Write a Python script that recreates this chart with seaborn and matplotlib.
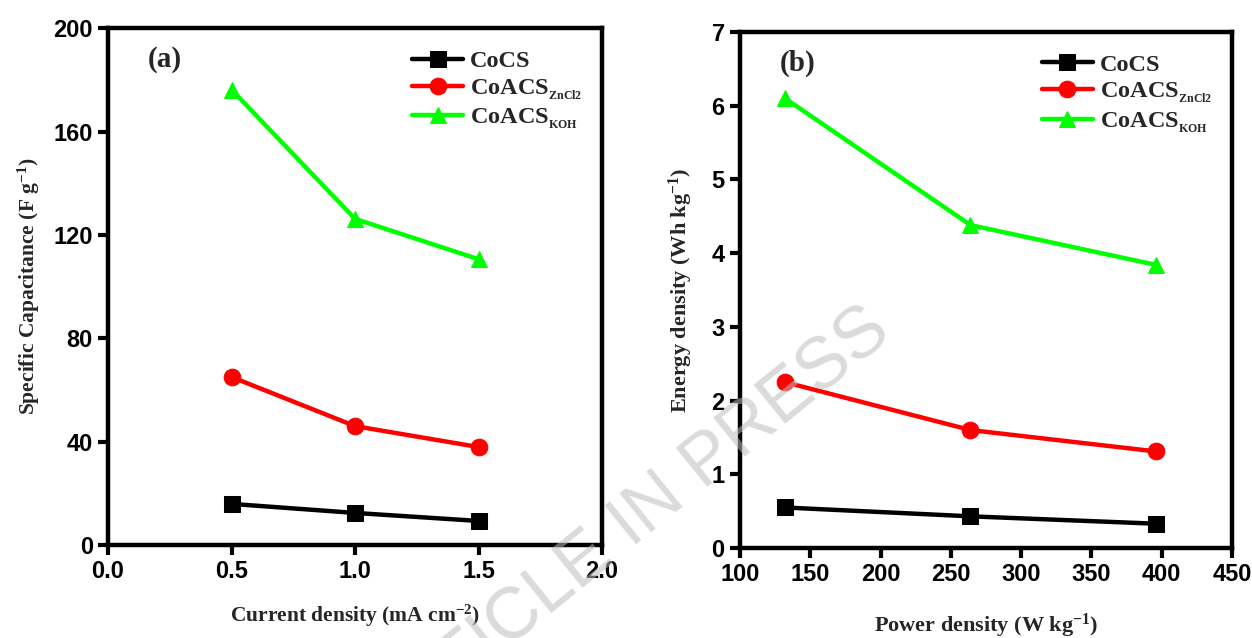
import matplotlib
matplotlib.use("Agg")
import matplotlib.pyplot as plt
import seaborn as sns
import pandas as pd

# Panel (a): specific capacitance vs current density
current_density = [0.5, 1.0, 1.5]
cap_cocs = [15.9, 12.4, 9.3]
cap_zncl2 = [65.0, 46.0, 37.9]
cap_koh = [176.2, 126.2, 110.6]

# Panel (b): energy density vs power density
power_density = [132, 264, 396]
energy_cocs = [0.55, 0.43, 0.33]
energy_zncl2 = [2.25, 1.60, 1.31]
energy_koh = [6.10, 4.38, 3.84]

series_labels = ["CoCS", r"CoACS$_{_{\mathbf{ZnCl2}}}$", r"CoACS$_{_{\mathbf{KOH}}}$"]
series_colors = ["#000000", "#ff0000", "#00ff00"]
series_markers = ["s", "o", "^"]

sns.set_theme(style="ticks")
plt.rcParams.update({
    "mathtext.fontset": "custom",
    "mathtext.rm": "Liberation Serif:bold",
    "mathtext.bf": "Liberation Serif:bold",
    "mathtext.it": "Liberation Serif:bold",
    "axes.linewidth": 3,
    "xtick.major.width": 3,
    "ytick.major.width": 3,
    "xtick.major.size": 7,
    "ytick.major.size": 7,
    "xtick.direction": "out",
    "ytick.direction": "out",
})
plt.rcParams["font.family"] = ["Liberation Serif", "DejaVu Serif"]

fig = plt.figure(figsize=(12.52, 6.38), dpi=100)
ax_a = fig.add_axes([0.0863, 0.1458, 0.3946, 0.810])
ax_b = fig.add_axes([0.591, 0.141, 0.393, 0.809])

tick_font = dict(family="Liberation Sans", weight="bold", size=17)


def draw_panel(ax, x, ys, xlim, xticks, ylim, yticks, xlabel, ylabel, tag,
               label_size, xlabelpad, ylabelpad):
    for y, lab, col, mk in zip(ys, series_labels, series_colors, series_markers):
        df = pd.DataFrame({"x": x, "y": y})
        sns.lineplot(data=df, x="x", y="y", ax=ax, color=col, marker=mk,
                     markersize=12, markeredgecolor=col, linewidth=3.2,
                     label=lab, clip_on=False)
    ax.set_xlim(*xlim)
    ax.set_ylim(*ylim)
    ax.set_xticks(xticks)
    ax.set_yticks(yticks)
    for spine in ax.spines.values():
        spine.set_visible(True)
        spine.set_linewidth(3.2)
        spine.set_color("black")
    ax.set_xticklabels([f"{t:g}" if isinstance(t, int) else f"{t:.1f}" for t in xticks],
                       fontdict=tick_font)
    ax.set_yticklabels([f"{t:g}" for t in yticks], fontdict=tick_font)
    ax.tick_params(axis="both", pad=4, colors="black")
    label_font = dict(family="Liberation Serif", weight="bold", size=label_size)
    ax.set_xlabel(xlabel, fontdict=label_font, labelpad=xlabelpad)
    ax.set_ylabel(ylabel, fontdict=label_font, labelpad=ylabelpad)
    ax.text(0.08, 0.94, tag, transform=ax.transAxes, fontsize=21,
            fontweight="bold", family="Liberation Serif", va="center")
    leg = ax.legend(loc="upper right", frameon=False, fontsize=17.5,
                    handlelength=2.1, handletextpad=0.3, labelspacing=0.2,
                    borderaxespad=0.4, bbox_to_anchor=(1.0, 0.995))
    for t in leg.get_texts():
        t.set_fontweight("bold")
        t.set_family("Liberation Serif")
    ax.set_facecolor("white")


draw_panel(ax_a, current_density, [cap_cocs, cap_zncl2, cap_koh],
           (0.0, 2.0), [0.0, 0.5, 1.0, 1.5, 2.0],
           (0, 200), [0, 40, 80, 120, 160, 200],
           r"Current density (mA cm$^{-2}$)",
           r"Specific Capacitance (F g$^{-1}$)", "(a)", 15.5, 14, 8)

draw_panel(ax_b, power_density, [energy_cocs, energy_zncl2, energy_koh],
           (100, 450), [100, 150, 200, 250, 300, 350, 400, 450],
           (0, 7), [0, 1, 2, 3, 4, 5, 6, 7],
           r"Power density (W kg$^{-1}$)",
           r"Energy density (Wh kg$^{-1}$)", "(b)", 16, 18, 12)

# Diagonal watermark across the figure
fig.text(0.499, 0.17, "ARTICLE IN PRESS", rotation=39, ha="center", va="center",
         rotation_mode="anchor", fontsize=52, family="Liberation Sans",
         color="#bdbdbd", alpha=0.55, zorder=10)

fig.savefig("out.png", dpi=100, facecolor="white")
